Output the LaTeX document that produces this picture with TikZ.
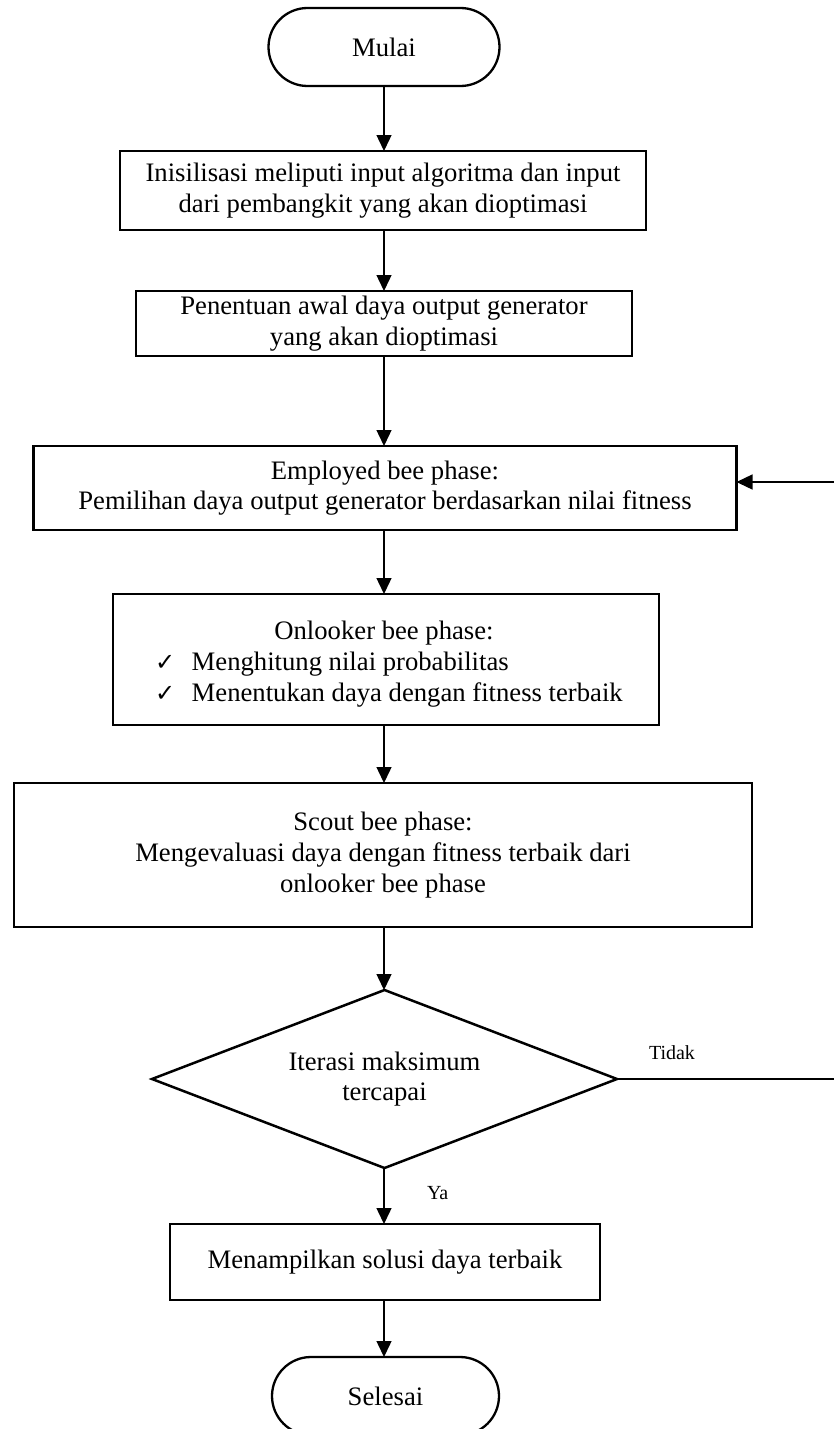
\documentclass[tikz,border=0pt]{standalone}
\usepackage{fontspec}
\setmainfont{Liberation Serif}
\newfontfamily\symfont{DejaVu Sans}
\usetikzlibrary{shapes.geometric,arrows.meta}
\begin{document}
\begin{tikzpicture}[x=1pt,y=-1pt,
  every node/.style={font=\fontsize{26.67}{30.7}\selectfont, inner sep=0pt, outer sep=0pt},
  term/.style={draw, line width=2.3pt, rounded corners=39pt, minimum width=#1, minimum height=78pt},
  procbox/.style={draw, line width=2.5pt, align=center},
  decision/.style={draw, line width=2.5pt, diamond, align=center, aspect=2.62},
  conn/.style={line width=1.4pt, -{Triangle[length=16pt,width=15pt]}},
  small/.style={font=\fontsize{20}{24}\selectfont},
  chk/.style={anchor=base west}]
\useasboundingbox (0,0) rectangle (834,1429);

\node[term=231pt] (start) at (384,47) {Mulai};
\node[procbox, minimum width=526pt, minimum height=79pt] (b1) at (383,190.5)
  {Inisilisasi meliputi input algoritma dan input\\dari pembangkit yang akan dioptimasi};
\node[procbox, minimum width=496pt, minimum height=65pt] (b2) at (384,323.5)
  {Penentuan awal daya output generator\\yang akan dioptimasi};
\node[procbox, minimum width=703pt, minimum height=84pt] (b3) at (385,488)
  {Employed bee phase:\\Pemilihan daya output generator berdasarkan nilai fitness};
\node[procbox, minimum width=546pt, minimum height=131pt] (b4) at (386,659.5) {};
\node[anchor=base] (b4h) at (384,639) {Onlooker bee phase:};
\node[chk] (b4a) at (155,670) {\makebox[36.7pt][l]{\symfont\fontsize{24}{24}\selectfont ✓}Menghitung nilai probabilitas};
\node[chk] (b4b) at (155,701) {\makebox[36.7pt][l]{\symfont\fontsize{24}{24}\selectfont ✓}Menentukan daya dengan fitness terbaik};
\node[procbox, minimum width=738pt, minimum height=144pt] (b5) at (383,855)
  {Scout bee phase:\\Mengevaluasi daya dengan fitness terbaik dari\\onlooker bee phase};
\node[decision, minimum width=465pt, minimum height=178pt] (d) at (384.5,1079)
  {Iterasi maksimum\\tercapai};
\node[procbox, minimum width=430pt, minimum height=76pt] (b6) at (385,1262)
  {Menampilkan solusi daya terbaik};
\node[term=227pt] (end) at (385.5,1396) {Selesai};

\coordinate (loopA) at (840,1079);
\coordinate (loopB) at (840,482);

\draw[conn] (start.south -| start) -- (b1.north -| start);
\draw[conn] (b1.south -| start) -- (b2.north -| start);
\draw[conn] (b2.south -| start) -- (b3.north -| start);
\draw[conn] (b3.south -| start) -- (b4.north -| start);
\draw[conn] (b4.south -| start) -- (b5.north -| start);
\draw[conn] (b5.south -| start) -- (d.north -| start);
\draw[conn] (d.south -| start) -- (b6.north -| start);
\draw[conn] (b6.south -| start) -- (end.north -| start);
\draw[conn] (d.east) -- (loopA) -- (loopB) -- (b3.east |- loopB);

\node[small, anchor=base west] (tidak) at (649,1059) {Tidak};
\node[small, anchor=base west] (ya) at (427,1199) {Ya};
\end{tikzpicture}
\end{document}
